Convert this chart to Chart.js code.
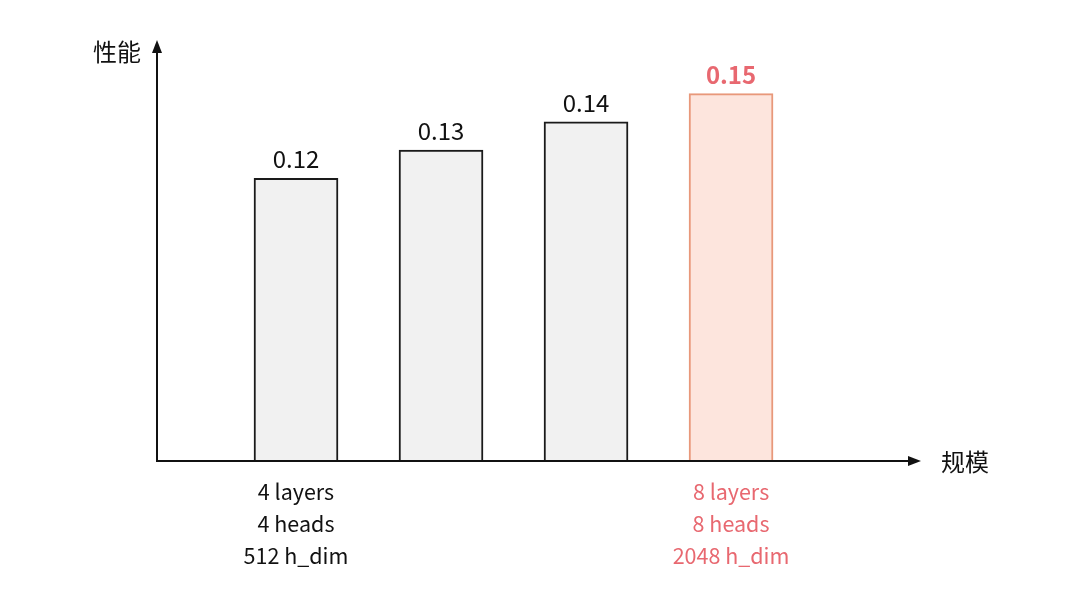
<!DOCTYPE html>
<html>
<head>
<meta charset="utf-8">
<script src="https://cdn.jsdelivr.net/npm/chart.js@4/dist/chart.umd.min.js"></script>
<style>
	html, body {
		margin: 0;
		padding: 0;
		background: #fff;
	}
	#wrap {
		width: 1080px;
		height: 608px;
	}
</style>
</head>
<body>
<div id="wrap"><canvas id="myChart" width="1080" height="608"></canvas></div>

<script>
	// data
	const positions = [1, 2, 3, 4];
	const values = [0.12, 0.13, 0.14, 0.15];
	const highlight = [false, false, false, true];
	const bottomLabels = [
		["4 layers", "4 heads", "512 h_dim"],
		null,
		null,
		["8 layers", "8 heads", "2048 h_dim"],
	];
	const yTitle = "性能";
	const xTitle = "规模";

	const FONT = "'Noto Sans CJK SC', 'Noto Sans', sans-serif";
	const INK = "#111111";
	const RED = "#e86870";

	const axesPlugin = {
		id: "axes",
		afterDatasetsDraw(chart) {
			const { ctx, chartArea, scales } = chart;
			const left = chartArea.left;
			const bottom = chartArea.bottom;
			ctx.save();
			ctx.strokeStyle = INK;
			ctx.fillStyle = INK;
			ctx.lineWidth = 2;

			// y axis + arrow
			ctx.beginPath();
			ctx.moveTo(left, bottom + 1);
			ctx.lineTo(left, chartArea.top + 10);
			ctx.stroke();
			ctx.beginPath();
			ctx.moveTo(left, chartArea.top);
			ctx.lineTo(left - 5, chartArea.top + 13);
			ctx.lineTo(left + 5, chartArea.top + 13);
			ctx.closePath();
			ctx.fill();

			// x axis + arrow
			ctx.beginPath();
			ctx.moveTo(left - 1, bottom);
			ctx.lineTo(chartArea.right - 10, bottom);
			ctx.stroke();
			ctx.beginPath();
			ctx.moveTo(chartArea.right, bottom);
			ctx.lineTo(chartArea.right - 13, bottom - 5);
			ctx.lineTo(chartArea.right - 13, bottom + 5);
			ctx.closePath();
			ctx.fill();

			// axis titles
			ctx.font = "24px " + FONT;
			ctx.textBaseline = "middle";
			ctx.textAlign = "center";
			ctx.fillText(yTitle, left - 40, chartArea.top + 12);
			ctx.fillText(xTitle, chartArea.right + 44, bottom + 1);

			// value labels
			const meta = chart.getDatasetMeta(0);
			meta.data.forEach((bar, i) => {
				ctx.fillStyle = highlight[i] ? RED : INK;
				ctx.font = (highlight[i] ? "bold " : "") + "24px " + FONT;
				ctx.textBaseline = "alphabetic";
				ctx.fillText(values[i].toFixed(2), bar.x, bar.y - 10);
			});

			// category labels under the axis
			ctx.font = "21.5px " + FONT;
			ctx.textBaseline = "middle";
			bottomLabels.forEach((lines, i) => {
				if (!lines) return;
				const x = scales.x.getPixelForValue(positions[i]);
				ctx.fillStyle = highlight[i] ? RED : INK;
				lines.forEach((line, j) => {
					ctx.fillText(line, x, bottom + 31 + j * 32);
				});
			});
			ctx.restore();
		},
	};

	const ctx = document.getElementById("myChart").getContext("2d");
	const myChart = new Chart(ctx, {
		type: "bar",
		data: {
			datasets: [
				{
					data: positions.map((x, i) => ({ x: x, y: values[i] })),
					backgroundColor: highlight.map((h) => (h ? "#fde5dd" : "#f1f1f1")),
					borderColor: highlight.map((h) => (h ? "#e8987a" : "#1a1a1a")),
					borderWidth: 2,
					borderSkipped: false,
					barThickness: 84,
				},
			],
		},
		options: {
			responsive: false,
			animation: false,
			layout: {
				padding: { left: 157, right: 159, top: 40, bottom: 147 },
			},
			plugins: {
				legend: { display: false },
				tooltip: { enabled: false },
			},
			scales: {
				x: {
					type: "linear",
					offset: false,
					min: 0.0414,
					max: 5.31,
					display: false,
				},
				y: {
					min: 0.02,
					max: 0.169,
					display: false,
				},
			},
		},
		plugins: [axesPlugin],
	});
</script>
</body>
</html>
